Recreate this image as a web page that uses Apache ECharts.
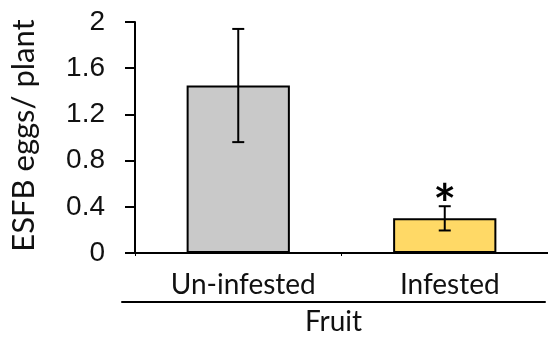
<!DOCTYPE html>
<html>
<head>
<meta charset="utf-8">
<script src="https://cdn.jsdelivr.net/npm/echarts@6/dist/echarts.min.js"></script>
<style>
  html, body { margin: 0; padding: 0; background: #fff; }
  #chart { width: 548px; height: 340px; }
</style>
</head>
<body>
<div id="chart"></div>
<script>
// Egg counts per plant by fruit condition (mean ± error)
const categories = ['Un-infested', 'Infested'];
const means = [1.45, 0.30];
const errors = [0.49, 0.105];
const sigMarks = ['', '*'];
const barColors = ['#c9c9c9', '#ffd966'];
const groupLabel = ['Fruit'];
const yTicks = { min: 0, max: 2, interval: 0.4 };

const chart = echarts.init(document.getElementById('chart'), null, { renderer: 'canvas' });

const errorData = means.map((m, i) => [i, m - errors[i], m + errors[i]]);

chart.setOption({
  animation: false,
  grid: [
    { left: 130, right: 0, top: 22, bottom: 87 },
    { left: 122, right: 3, top: 22, bottom: 87 }
  ],
  xAxis: [
    {
      type: 'category',
      gridIndex: 0,
      data: categories,
      axisLine: { lineStyle: { color: '#000', width: 2 } },
      axisTick: { show: true, length: 3, lineStyle: { color: '#000', width: 1 } },
      axisLabel: {
        color: '#111', fontFamily: 'Lato', fontSize: 28, margin: 18,
        padding: [0, 0, 0, 10]
      }
    },
    {
      type: 'category',
      gridIndex: 1,
      data: groupLabel,
      position: 'bottom',
      offset: 49,
      axisLine: { show: true, onZero: false, lineStyle: { color: '#000', width: 2 } },
      axisTick: { show: false },
      axisLabel: {
        color: '#111', fontFamily: 'Lato', fontSize: 28, margin: 6
      }
    }
  ],
  yAxis: [
    {
      type: 'value',
      gridIndex: 0,
      min: yTicks.min, max: yTicks.max, interval: yTicks.interval,
      name: 'ESFB eggs/ plant',
      nameLocation: 'middle',
      nameGap: 96,
      nameRotate: 90,
      nameTextStyle: { color: '#111', fontFamily: 'Lato', fontSize: 31, padding: [0, 0, 0, 4] },
      axisLine: { show: true, lineStyle: { color: '#000', width: 2 } },
      axisTick: { show: true, length: 10, lineStyle: { color: '#000', width: 2 } },
      axisLabel: {
        color: '#111', fontFamily: 'Liberation Sans', fontSize: 28, margin: 30,
        formatter: v => String(+v.toFixed(1))
      },
      splitLine: { show: false }
    },
    {
      type: 'value', gridIndex: 1, min: 0, max: 2, show: false
    }
  ],
  series: [
    {
      type: 'bar',
      xAxisIndex: 0, yAxisIndex: 0,
      data: means.map((v, i) => ({
        value: v,
        itemStyle: { color: barColors[i], borderColor: '#000', borderWidth: 2 }
      })),
      barWidth: '50%'
    },
    {
      type: 'custom',
      xAxisIndex: 0, yAxisIndex: 0,
      data: errorData,
      z: 5,
      renderItem: function (params, api) {
        const idx = api.value(0);
        const lo = api.coord([idx, api.value(1)]);
        const hi = api.coord([idx, api.value(2)]);
        const mark = sigMarks[params.dataIndex];
        const half = 6;
        const style = { stroke: '#000', lineWidth: 2 };
        const children = [
          { type: 'line', shape: { x1: hi[0], y1: hi[1], x2: lo[0], y2: lo[1] }, style },
          { type: 'line', shape: { x1: hi[0] - half, y1: hi[1], x2: hi[0] + half, y2: hi[1] }, style },
          { type: 'line', shape: { x1: lo[0] - half, y1: lo[1], x2: lo[0] + half, y2: lo[1] }, style }
        ];
        if (mark) {
          children.push({
            type: 'text',
            style: {
              x: hi[0], y: hi[1] + 26,
              text: mark,
              fill: '#000',
              font: 'bold 54px Lato',
              textAlign: 'center',
              textVerticalAlign: 'bottom'
            }
          });
        }
        return { type: 'group', children };
      }
    }
  ]
});
</script>
</body>
</html>
